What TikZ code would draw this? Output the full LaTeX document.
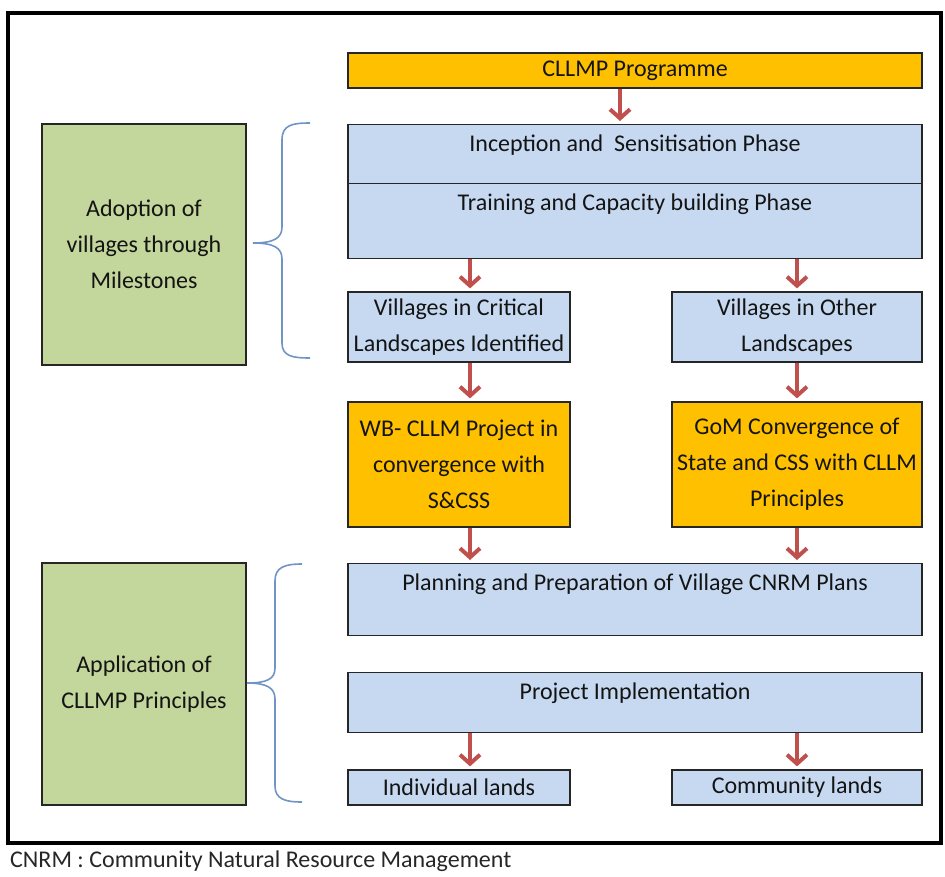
\documentclass[tikz,border=0pt]{standalone}
\usepackage{fontspec}
\setmainfont{Carlito}
\usetikzlibrary{arrows.meta}
\definecolor{progorange}{HTML}{FFC000}
\definecolor{phaseblue}{HTML}{C6D9F1}
\definecolor{stagegreen}{HTML}{C3D69B}
\definecolor{arrowred}{HTML}{C0504D}
\definecolor{bracegray}{HTML}{7094C4}
\tikzset{
  box/.style={draw=black!85, line width=1.2pt, inner xsep=2pt, align=center, text=black!92},
  orangebox/.style={box, fill=progorange},
  bluebox/.style={box, fill=phaseblue},
  greenbox/.style={box, fill=stagegreen},
  topbox/.style={bluebox, anchor=north, minimum width=574pt, inner ysep=0pt, text height=27pt},
  flow/.style={arrowred, line width=4pt, -{Straight Barb[length=9pt,width=20pt,line width=4pt]}, shorten >=3pt},
  curly/.style={bracegray, line width=1.6pt}
}

\begin{document}
\begin{tikzpicture}[x=1pt, y=-1pt, font=\fontsize{24}{36}\selectfont]
		%%%%% START %%%%%
		\useasboundingbox (0,0) rectangle (945,876);
		
		\draw[line width=3.5pt] (8,13) rectangle (941,843);
		
		% arrow columns
		\coordinate (colM) at (620,0);
		\coordinate (colL) at (470,0);
		\coordinate (colR) at (797,0);
		
		\node[orangebox, minimum width=574pt, minimum height=35pt] (cllmp) at (635,70.5) {CLLMP Programme};
		\node[topbox, text depth=32pt] (incep) at (635,124) {Inception and~ Sensitisation Phase};
		\node[topbox, text depth=48pt] (train) at (635,183) {Training and Capacity building Phase};
		
		\node[bluebox, minimum width=222pt, minimum height=70pt] (critical) at (459,327) {Villages in Critical\\Landscapes Identified};
		\node[bluebox, minimum width=250pt, minimum height=70pt] (other) at (797,327) {Villages in Other\\Landscapes};
		
		\node[orangebox, minimum width=222pt, minimum height=125pt] (wbproj) at (459,464.5) {WB- CLLM Project in\\convergence with\\S\&CSS};
		\node[orangebox, minimum width=250pt, minimum height=125pt] (gom) at (797,464.5) {GoM Convergence of\\State and CSS with CLLM\\Principles};
		
		\node[topbox, text depth=45pt] (plan) at (635,563) {Planning and Preparation of Village CNRM Plans};
		\node[topbox, text depth=33pt] (impl) at (635,672) {Project Implementation};
		
		\node[bluebox, minimum width=222pt, minimum height=35pt] (indiv) at (459,787.5) {Individual lands};
		\node[bluebox, minimum width=250pt, minimum height=35pt] (commun) at (797,787.5) {Community lands};
		
		\node[greenbox, minimum width=204pt, minimum height=241pt] (adopt) at (144,244.5) {Adoption of\\villages through\\Milestones};
		\node[greenbox, minimum width=204pt, minimum height=242pt] (apply) at (144,684) {Application of\\CLLMP Principles};
		
		% braces
		\draw[curly] (310,123) .. controls (292,123) and (282,125) .. (282,140) -- (282,227)
			.. controls (282,238) and (274,243) .. (253,243)
			.. controls (274,243) and (282,248) .. (282,259) -- (282,343)
			.. controls (282,356) and (292,358) .. (310,358);
		\draw[curly] (302,564) .. controls (285,564) and (275,567) .. (275,581) -- (275,668)
			.. controls (275,679) and (267,683) .. (247,683)
			.. controls (267,683) and (275,688) .. (275,699) -- (275,786)
			.. controls (275,799) and (285,802) .. (302,802);
		
		% arrows
		\draw[flow] (cllmp.south -| colM) -- (incep.north -| colM);
		\draw[flow] (train.south -| colL) -- (critical.north -| colL);
		\draw[flow] (train.south -| colR) -- (other.north -| colR);
		\draw[flow] (critical.south -| colL) -- (wbproj.north -| colL);
		\draw[flow] (other.south -| colR) -- (gom.north -| colR);
		\draw[flow] (wbproj.south -| colL) -- (plan.north -| colL);
		\draw[flow] (gom.south -| colR) -- (plan.north -| colR);
		\draw[flow] (impl.south -| colL) -- (indiv.north -| colL);
		\draw[flow] (impl.south -| colR) -- (commun.north -| colR);
		
		\node[anchor=base west, inner sep=0pt, text=black!85] (note) at (10,867) {CNRM : Community Natural Resource Management};
		
		%%%%% END %%%%%
	\end{tikzpicture}
\end{document}
